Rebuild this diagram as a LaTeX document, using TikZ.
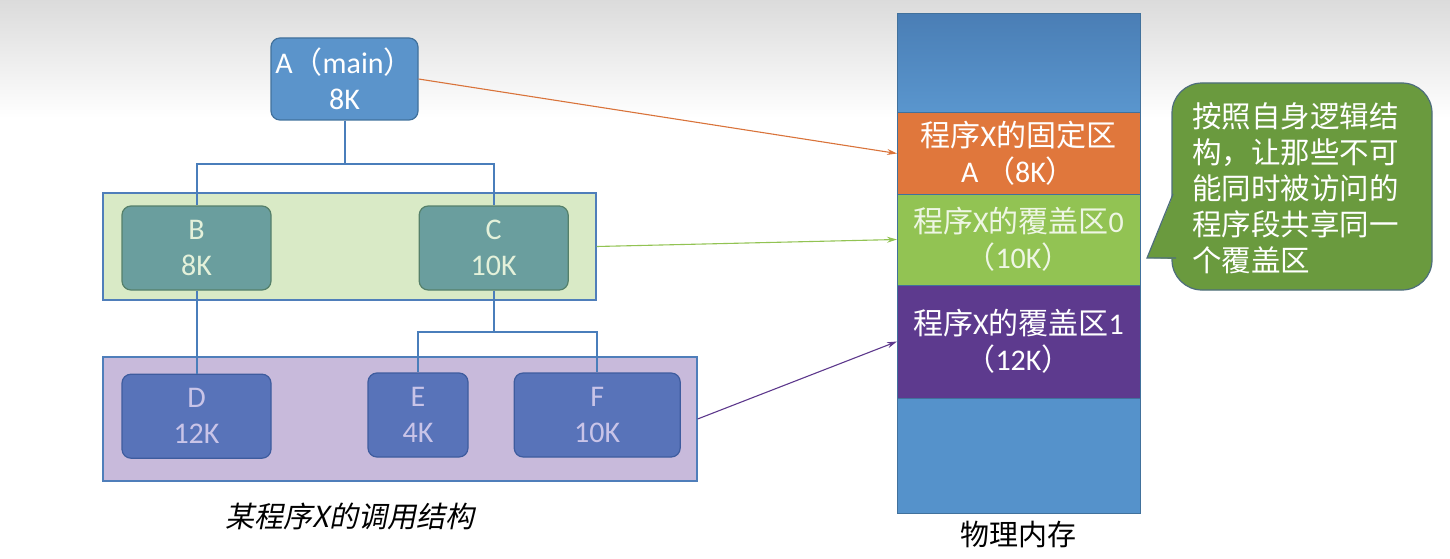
\documentclass[tikz,border=0pt]{standalone}
\usepackage{fontspec}
\setmainfont{Carlito}
\newfontfamily\cjk{Noto Sans CJK SC}
\newfontfamily\cjkit[FakeSlant=0.2]{Noto Sans CJK SC}
\usepackage{xcolor}
\usetikzlibrary{arrows.meta,positioning}

\definecolor{aBlue}{HTML}{5B94CB}
\definecolor{aEdge}{HTML}{41719C}
\definecolor{grpGreen}{HTML}{D9EAC6}
\definecolor{grpLine}{HTML}{4F7EBA}
\definecolor{bcFill}{HTML}{6A9E9E}
\definecolor{bcEdge}{HTML}{55806A}
\definecolor{bcText}{HTML}{E4F1DA}
\definecolor{grpPurple}{HTML}{C8BADB}
\definecolor{dFill}{HTML}{5873B9}
\definecolor{dEdge}{HTML}{3E5C9E}
\definecolor{dText}{HTML}{C9C4E8}
\definecolor{treeLine}{HTML}{4A7EBB}
\definecolor{memTopA}{HTML}{4A7EB5}
\definecolor{memTopB}{HTML}{5A96CE}
\definecolor{memLine}{HTML}{41719C}
\definecolor{fixOrange}{HTML}{E0773C}
\definecolor{coverGreen}{HTML}{92C353}
\definecolor{coverText}{HTML}{EEF6E4}
\definecolor{coverPurple}{HTML}{5D3A8E}
\definecolor{memBottom}{HTML}{5592CB}
\definecolor{noteFill}{HTML}{6A9A3E}
\definecolor{noteEdge}{HTML}{4E6E7C}
\definecolor{arrOrange}{HTML}{D9733A}
\definecolor{arrPurple}{HTML}{5D388C}

\begin{document}
\begin{tikzpicture}[
  x=1pt, y=-1pt,
  font=\fontsize{30}{36}\selectfont,
  box/.style={draw, rounded corners=9pt, line width=1.2pt, align=center, inner sep=0pt, minimum width=149pt, minimum height=84pt},
  grp/.style={draw=grpLine, line width=1.2pt, inner sep=0pt},
  mem/.style={draw=memLine, line width=1pt, align=center, inner sep=0pt, outer sep=0pt, minimum width=243pt},
  tree/.style={draw=treeLine, line width=2pt},
  arr/.style={-{Stealth[length=10pt,width=6pt]}, line width=1.1pt}
]
  \useasboundingbox (0,0) rectangle (1450,559);
  \shade[top color=black!14, bottom color=white] (0,0) rectangle (1450,118);

  % call structure
  \node[grp, fill=grpGreen, minimum width=493pt, minimum height=107pt] (grpBC) at (349.5,246.5) {};
  \node[grp, fill=grpPurple, minimum width=594pt, minimum height=124pt] (grpDEF) at (400,419) {};

  \node[box, fill=aBlue, draw=aEdge, text=white, minimum width=147pt, minimum height=82pt] (A) at (344.5,79) {A{\cjk （}main{\cjk ）}\\8K};
  \node[box, fill=bcFill, draw=bcEdge, text=bcText] (B) at (196.5,248) {B\\8K};
  \node[box, fill=bcFill, draw=bcEdge, text=bcText, right=147pt of B] (C) {C\\10K};
  \node[box, fill=dFill, draw=dEdge, text=dText, below=83pt of B] (D) {D\\12K};
  \node[box, fill=dFill, draw=dEdge, text=dText, minimum width=100pt] (E) at (418,415) {E\\4K};
  \node[box, fill=dFill, draw=dEdge, text=dText, minimum width=166pt, right=45pt of E] (F) {F\\10K};

  \draw[tree] (A.south) -- ++(0,43) -| (B.north);
  \draw[tree] (A.south) -- ++(0,43) -| (C.north);
  \draw[tree] (B.south) -- (D.north);
  \draw[tree] (C.south) -- ++(0,41) -| (E.north);
  \draw[tree] (C.south) -- ++(0,41) -| (F.north);

  \node[font=\cjkit\fontsize{29}{34}\selectfont] (cap) at (350,516) {某程序X的调用结构};

  % physical memory
  \node[mem, minimum height=99pt, top color=memTopA, bottom color=memTopB] (mTop) at (1018.5,63.5) {};
  \node[mem, fill=fixOrange, text=white, minimum height=81pt, below=0pt of mTop] (fixed) {{\cjk 程序}X{\cjk 的固定区}\\A {\cjk （}8K{\cjk ）}};
  \node[mem, fill=coverGreen, text=coverText, minimum height=91pt, below=0pt of fixed] (cover0) {{\cjk 程序}X{\cjk 的覆盖区}0\\{\cjk （}10K{\cjk ）}};
  \node[mem, fill=coverPurple, text=white, minimum height=113pt, below=0pt of cover0] (cover1) {{\cjk 程序}X{\cjk 的覆盖区}1\\{\cjk （}12K{\cjk ）}};
  \node[mem, fill=memBottom, minimum height=115pt, below=0pt of cover1] (mBot) {};
  \node[font=\cjk\fontsize{29}{34}\selectfont] (memCap) at (1018,535) {物理内存};

  \draw[arr, arrOrange] (A.east) -- (fixed.west);
  \draw[arr, coverGreen] (grpBC.east) -- (cover0.west);
  \draw[arr, arrPurple] (grpDEF.east) -- (cover1.west);

  % callout
  \node[draw=noteEdge, fill=noteFill, line width=1.2pt, rounded corners=30pt, minimum width=260pt, minimum height=207pt] (noteBox) at (1302,186.5) {};
  \coordinate (tip) at (1147,258);
  \fill[noteFill] (1174.5,192) -- (tip) -- (1174.5,259) -- cycle;
  \draw[noteEdge, line width=1.2pt] (1173,194) -- (tip) -- (1176,258);
  \node[font=\cjk\fontsize{29.5}{36}\selectfont, text=white, align=left, anchor=west, inner sep=0pt] (note) at (1192,188) {按照自身逻辑结\\构，让那些不可\\能同时被访问的\\程序段共享同一\\个覆盖区};
\end{tikzpicture}
\end{document}
